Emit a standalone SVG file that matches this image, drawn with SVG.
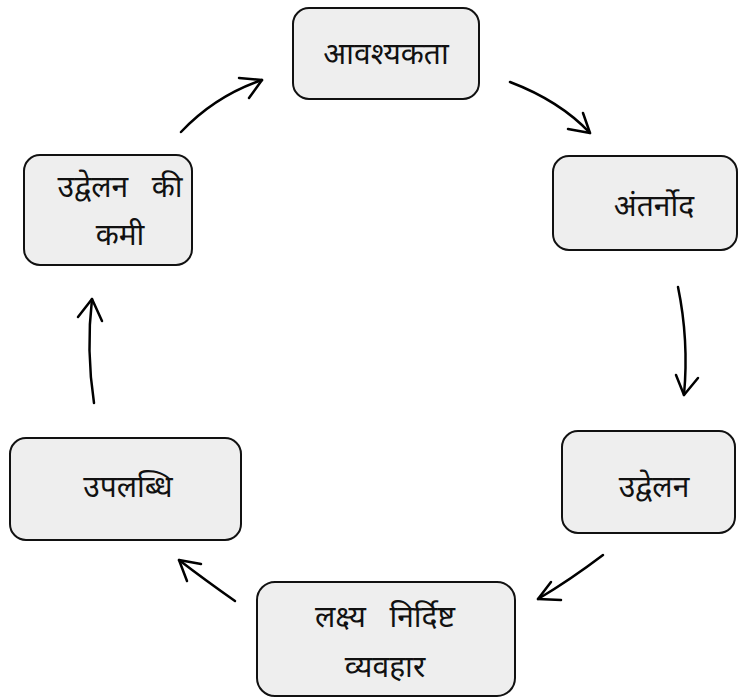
<svg xmlns="http://www.w3.org/2000/svg" width="739" height="698" viewBox="0 0 739 698">
<style>
.box{fill:#eeeeee;stroke:#111;stroke-width:2}
.t{font-family:"Noto Sans Devanagari","Lohit Devanagari","Mangal","Noto Sans",sans-serif;font-size:30px;fill:#111;text-anchor:middle}
.c{fill:none;stroke:#000;stroke-width:2.5;stroke-linecap:round;stroke-linejoin:round}
</style>
<rect width="739" height="698" fill="#fff"/>
<g id="n1"><rect class="box" x="293" y="8" width="186" height="91" rx="16"/><text class="t" x="386" y="64">आवश्यकता</text></g>
<g id="n2"><rect class="box" x="553" y="156" width="184" height="94" rx="16"/><text class="t" x="654" y="216">अंतर्नोद</text></g>
<g id="n3"><rect class="box" x="562" y="431" width="173" height="102" rx="16"/><text class="t" x="654" y="497">उद्वेलन</text></g>
<g id="n4"><rect class="box" x="257" y="582" width="258" height="114" rx="18"/><text class="t" x="385" y="627" xml:space="preserve">लक्ष्य   निर्दिष्ट</text><text class="t" x="385" y="677">व्यवहार</text></g>
<g id="n5"><rect class="box" x="10" y="438" width="231" height="102" rx="16"/><text class="t" x="128" y="497">उपलब्धि</text></g>
<g id="n6"><rect class="box" x="24" y="155" width="168" height="110" rx="16"/><text class="t" x="120" y="197" xml:space="preserve">उद्वेलन   की</text><text class="t" x="120" y="245">कमी</text></g>
<g id="connectors">
<path class="c" d="M181,132 Q215,96 262,80"/><polyline class="c" points="239,78 262,80 249,98"/>
<path class="c" d="M510,82 Q560,101 590,133"/><polyline class="c" points="583,113 590,133 568,129"/>
<path class="c" d="M678,287 Q689,340 684,395"/><polyline class="c" points="676,375 684,395 698,378"/>
<path class="c" d="M603,555 Q570,580 538,599"/><polyline class="c" points="551,582 538,599 561,600"/>
<path class="c" d="M235,601 Q205,580 179,560"/><polyline class="c" points="201,564 179,560 187,581"/>
<path class="c" d="M94,403 Q86,350 92,299"/><polyline class="c" points="78,317 92,299 102,321"/>
</g>
</svg>
